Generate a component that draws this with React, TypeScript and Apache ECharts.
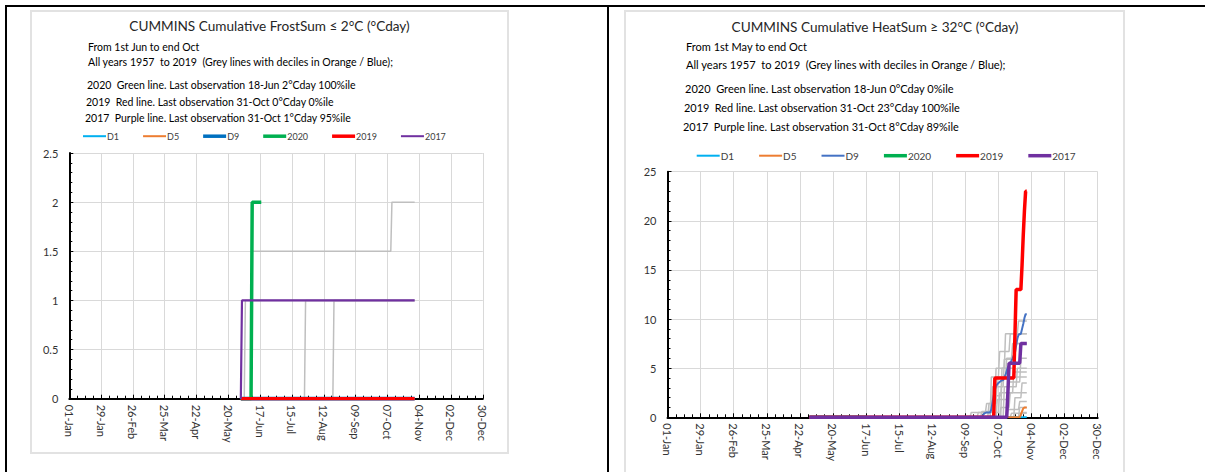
import React, { useEffect, useRef } from "react";
import * as echarts from "echarts";

// ---------- shared axis data ----------
// x positions are day-of-year in 2020 (0 = 01-Jan), ticks every 28 days
const X_TICK_LABELS = ["01-Jan", "29-Jan", "26-Feb", "25-Mar", "22-Apr", "20-May", "17-Jun", "15-Jul", "12-Aug", "09-Sep", "07-Oct", "04-Nov", "02-Dec", "30-Dec"];
const X_TICK_STEP = 28;
const LEGEND_NAMES = ["D1", "D5", "D9", "2020", "2019", "2017"];

const NB = "\u00a0";

// ---------- left chart: FrostSum ----------
const frostTitle = "CUMMINS Cumulative FrostSum \u2264 2\u00b0C (\u00b0Cday)";
const frostNotes = [
  "From 1st Jun to end Oct",
  "All years 1957 " + NB + "to 2019 " + NB + "(Grey lines with deciles in Orange / Blue);",
  "2020 " + NB + "Green line. Last observation 18-Jun 2\u00b0Cday 100%ile",
  "2019 " + NB + "Red line. Last observation 31-Oct 0\u00b0Cday 0%ile",
  "2017 " + NB + "Purple line. Last observation 31-Oct 1\u00b0Cday 95%ile",
];
const frostD1 = [[151, 0], [304, 0]];
const frostD5 = [[151, 0], [304, 0]];
const frostD9 = [[151, 0], [304, 0]];
const frost2020 = [[151, 0], [160, 0], [161, 2], [169, 2]];
const frost2019 = [[151, 0], [304, 0]];
const frost2017 = [[151, 0], [152, 1], [304, 1]];
const frostGreyA = [[151, 0], [154, 0], [155, 1], [304, 1]];
const frostGreyB = [[151, 0], [160, 0], [161, 1.5], [283, 1.5], [284, 2], [304, 2]];
const frostGreyC = [[151, 0], [207, 0], [208, 1], [304, 1]];
const frostGreyD = [[151, 0], [232, 0], [233, 1], [304, 1]];
const frostGreyE = [[151, 0], [304, 0]];

// ---------- right chart: HeatSum ----------
const heatTitle = "CUMMINS Cumulative HeatSum \u2265 32\u00b0C (\u00b0Cday)";
const heatNotes = [
  "From 1st May to end Oct",
  "All years 1957 " + NB + "to 2019 " + NB + "(Grey lines with deciles in Orange / Blue);",
  "2020 " + NB + "Green line. Last observation 18-Jun 0\u00b0Cday 0%ile",
  "2019 " + NB + "Red line. Last observation 31-Oct 23\u00b0Cday 100%ile",
  "2017 " + NB + "Purple line. Last observation 31-Oct 8\u00b0Cday 89%ile",
];
const heatD1 = [[120, 0], [304, 0]];
const heatD5 = [[120, 0], [298, 0], [299, 0.3], [300, 0.6], [301, 0.9], [302, 1.0], [304, 1.0]];
const heatD9 = [[120, 0], [266, 0], [267, 0.2], [268, 0.4], [270, 0.5], [273, 0.5], [274, 0.8], [275, 1.5], [276, 2.2], [277, 2.8], [278, 3.2], [280, 3.5], [282, 3.7], [284, 3.8], [286, 4.3], [288, 5.1], [290, 5.5], [292, 6.0], [294, 6.6], [295, 7.3], [296, 8.0], [297, 8.4], [299, 8.5], [300, 9.0], [301, 9.5], [302, 10.1], [303, 10.5], [304, 10.5]];
const heat2020 = [[120, 0], [169, 0]];
const heat2019 = [[120, 0], [276, 0], [277, 4], [293, 4], [294, 8.5], [295, 13], [299, 13], [300, 15.5], [301, 18.5], [302, 21], [303, 23], [304, 23]];
const heat2017 = [[120, 0], [287, 0], [288, 2.5], [289, 5.5], [298, 5.5], [299, 7.5], [304, 7.5]];
const heatGreyA = [[120, 0], [256, 0], [257, 0.5], [269, 0.5], [270, 1.4], [278, 1.4], [279, 4.1], [286, 4.1], [287, 6.0], [294, 6.0], [295, 8.5], [304, 8.5]];
const heatGreyB = [[120, 0], [265, 0], [266, 0.6], [274, 0.6], [275, 3.1], [284, 3.1], [285, 5.9], [291, 5.9], [292, 7.5], [304, 7.5]];
const heatGreyC = [[120, 0], [271, 0], [272, 1.4], [277, 1.4], [278, 5.0], [285, 5.0], [286, 8.5], [296, 8.5], [297, 9.8], [304, 9.8]];
const heatGreyD = [[120, 0], [276, 0], [277, 2.2], [282, 2.2], [283, 4.1], [304, 4.1]];
const heatGreyE = [[120, 0], [281, 0], [282, 1.0], [289, 1.0], [290, 2.5], [304, 2.5]];
const heatGreyF = [[120, 0], [284, 0], [285, 3.1], [295, 3.1], [296, 5.0], [304, 5.0]];
const heatGreyG = [[120, 0], [287, 0], [288, 0.8], [297, 0.8], [298, 1.6], [304, 1.6]];
const heatGreyH = [[120, 0], [290, 0], [291, 0.4], [304, 0.4]];
const heatGreyI = [[120, 0], [293, 0], [294, 2.0], [299, 2.0], [300, 3.5], [304, 3.5]];
const heatGreyJ = [[120, 0], [297, 0], [298, 1.0], [304, 1.0]];
const heatGreyK = [[120, 0], [299, 0], [300, 0.5], [304, 0.5]];
const heatGreyL = [[120, 0], [273, 0], [274, 4.1], [280, 4.1], [281, 6.7], [289, 6.7], [290, 8.5], [304, 8.5]];
const heatGreyM = [[120, 0], [278, 0], [279, 1.8], [288, 1.8], [289, 3.6], [298, 3.6], [299, 6.0], [304, 6.0]];
const heatGreyN = [[120, 0], [282, 0], [283, 5.0], [293, 5.0], [294, 7.5], [304, 7.5]];
const heatGreyO = [[120, 0], [262, 0], [263, 0.5], [280, 0.5], [281, 2.5], [292, 2.5], [293, 4.6], [304, 4.6]];

const FONT = "Lato";
const COLORS: Record<string, string> = {
  D1: "#00b0f0",
  D5: "#ed7d31",
  "2020": "#00b050",
  "2019": "#ff0000",
  "2017": "#7030a0",
};

type Cfg = {
  title: string;
  notes: string[];
  noteSizes: number[];
  noteX: number;
  noteY: number[];
  titleTop: number;
  legendLeft: number;
  legendTop: number;
  legendFont: number;
  legendGap: number;
  grid: { left: number; right: number; top: number; bottom: number };
  yMax: number;
  yInterval: number;
  yMinorSplit: number;
  named: Record<string, number[][]>;
  widths: Record<string, number>;
  d9Color: string;
  greys: number[][][];
};

function barIcon(w: number) {
  return "path://M0,0H46V" + w * 2 + "H0Z";
}

function buildOption(c: Cfg) {
  const colorOf = (n: string) => (n === "D9" ? c.d9Color : COLORS[n]);
  const series: any[] = [];
  c.greys.forEach((g, i) => {
    series.push({
      type: "line",
      name: "grey" + i,
      data: g,
      symbol: "none",
      lineStyle: { color: "#bfbfbf", width: 1.5 },
      itemStyle: { color: "#bfbfbf" },
      z: 2,
    });
  });
  LEGEND_NAMES.forEach((n, i) => {
    series.push({
      type: "line",
      name: n,
      data: c.named[n],
      symbol: "none",
      lineStyle: { color: colorOf(n), width: c.widths[n] },
      itemStyle: { color: colorOf(n) },
      z: 3 + i,
    });
  });
  return {
    animation: false,
    title: {
      text: c.title,
      left: "center",
      top: c.titleTop,
      padding: 0,
      textStyle: { fontFamily: FONT, fontSize: 13.6, fontWeight: "normal", color: "#262626" },
    },
    graphic: c.notes.map((t, i) => ({
      type: "text",
      x: c.noteX - (i >= 2 ? i - 1 : 0),
      y: c.noteY[i],
      style: { text: t, fontFamily: FONT, fontSize: c.noteSizes[i], fill: "#000", verticalAlign: "middle" },
    })),
    legend: {
      left: c.legendLeft,
      top: c.legendTop,
      padding: 0,
      itemWidth: 23,
      itemHeight: 10,
      itemGap: c.legendGap,
      selectedMode: false,
      textStyle: { fontFamily: FONT, fontSize: c.legendFont, color: "#404040", padding: [0, 0, 0, -4] },
      data: LEGEND_NAMES.map((n) => ({
        name: n,
        icon: barIcon(c.widths[n] >= 3.2 ? 3.5 : 2),
        itemStyle: { color: colorOf(n), borderWidth: 0 },
      })),
    },
    grid: { ...c.grid, containLabel: false, outerBoundsMode: "none" },
    xAxis: {
      type: "value",
      min: 0,
      max: X_TICK_STEP * (X_TICK_LABELS.length - 1),
      interval: X_TICK_STEP,
      axisLine: { show: true, onZero: false, lineStyle: { color: "#000", width: 2 } },
      axisTick: { show: true, inside: true, length: 4, lineStyle: { color: "#000", width: 1 } },
      minorTick: { show: true, splitNumber: 4, length: 3, lineStyle: { color: "#000", width: 1 } },
      axisLabel: {
        rotate: -90,
        margin: 6,
        fontFamily: FONT,
        fontSize: 11,
        color: "#333",
        formatter: (v: number) => X_TICK_LABELS[Math.round(v / X_TICK_STEP)] ?? "",
      },
      splitLine: { show: true, lineStyle: { color: "#d9d9d9", width: 1 } },
    },
    yAxis: {
      type: "value",
      min: 0,
      max: c.yMax,
      interval: c.yInterval,
      axisLine: { show: true, onZero: false, lineStyle: { color: "#000", width: 2 } },
      axisTick: { show: true, inside: true, length: 4, lineStyle: { color: "#000", width: 1 } },
      minorTick: { show: true, splitNumber: c.yMinorSplit, length: 3, lineStyle: { color: "#000", width: 1 } },
      axisLabel: { margin: 11, fontFamily: FONT, fontSize: 11, color: "#333" },
      splitLine: { show: true, lineStyle: { color: "#d9d9d9", width: 1 } },
    },
    series,
  };
}

const frostOption = buildOption({
  title: frostTitle,
  notes: frostNotes,
  noteSizes: [10.5, 10.6, 10.5, 10.5, 10.5],
  noteX: 58,
  noteY: [36.7, 51.7, 75, 91.7, 108.3],
  titleTop: 9,
  legendLeft: 53,
  legendTop: 121.7,
  legendFont: 9,
  legendGap: 24,
  grid: { left: 39.3, right: 26.2, top: 143, bottom: 55.3 },
  yMax: 2.5,
  yInterval: 0.5,
  yMinorSplit: 5,
  named: { D1: frostD1, D5: frostD5, D9: frostD9, "2020": frost2020, "2019": frost2019, "2017": frost2017 },
  widths: { D1: 2, D5: 2, D9: 4, "2020": 3.5, "2019": 3.5, "2017": 2.2 },
  d9Color: "#0070c0",
  greys: [frostGreyA, frostGreyB, frostGreyC, frostGreyD, frostGreyE],
});

const heatOption = buildOption({
  title: heatTitle,
  notes: heatNotes,
  noteSizes: [11, 11.1, 11, 10.9, 10.9],
  noteX: 61,
  noteY: [36.7, 54, 78.3, 97.3, 116],
  titleTop: 10,
  legendLeft: 71.7,
  legendTop: 140.7,
  legendFont: 10,
  legendGap: 25,
  grid: { left: 42.5, right: 27.3, top: 161.7, bottom: 54.7 },
  yMax: 25,
  yInterval: 5,
  yMinorSplit: 5,
  named: { D1: heatD1, D5: heatD5, D9: heatD9, "2020": heat2020, "2019": heat2019, "2017": heat2017 },
  widths: { D1: 2, D5: 2, D9: 2, "2020": 3.5, "2019": 3.5, "2017": 3.5 },
  d9Color: "#4472c4",
  greys: [heatGreyA, heatGreyB, heatGreyC, heatGreyD, heatGreyE, heatGreyF, heatGreyG, heatGreyH, heatGreyI, heatGreyJ, heatGreyK, heatGreyL, heatGreyM, heatGreyN, heatGreyO],
});

function ChartPanel({ option, style }: { option: any; style: React.CSSProperties }) {
  const ref = useRef<HTMLDivElement>(null);
  useEffect(() => {
    const chart = echarts.init(ref.current!, null, { renderer: "svg" });
    chart.setOption(option);
    return () => chart.dispose();
  }, [option]);
  return <div ref={ref} style={style} />;
}

export default function App() {
  const abs = (l: number, t: number, w: number, h: number, extra: React.CSSProperties = {}): React.CSSProperties => ({
    position: "absolute",
    left: l,
    top: t,
    width: w,
    height: h,
    ...extra,
  });
  return (
    <div style={abs(0, 0, 1205, 472, { overflow: "hidden", background: "#fff" })}>
      <div style={abs(5, 5, 1200, 2, { background: "#000" })} />
      <div style={abs(5, 5, 2, 467, { background: "#000" })} />
      <div style={abs(607, 5, 2, 467, { background: "#000" })} />
      <div style={abs(30, 10, 479, 444, { border: "2px solid #e2e2e2", boxSizing: "border-box" })} />
      <div style={abs(624, 10, 501, 475, { border: "2px solid #e2e2e2", boxSizing: "border-box" })} />
      <ChartPanel option={frostOption} style={abs(30, 10, 479, 444)} />
      <ChartPanel option={heatOption} style={abs(625, 10, 500, 462)} />
    </div>
  );
}
